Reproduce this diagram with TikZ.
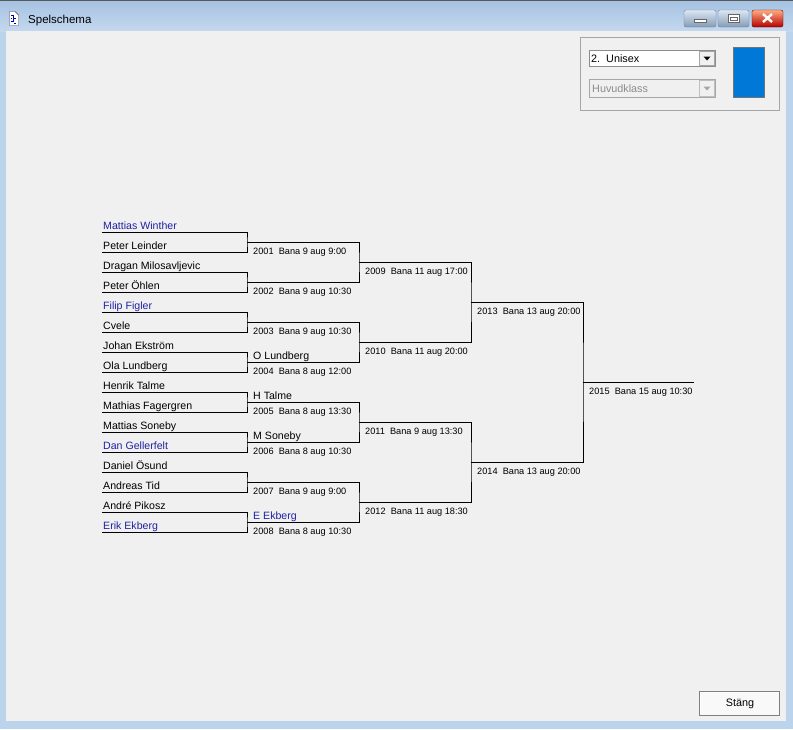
\documentclass[tikz,border=0pt]{standalone}
\usepackage{fontspec}
\setmainfont{Liberation Sans}
\usepackage{tikz}
\usetikzlibrary{positioning,calc}
\definecolor{clientgray}{RGB}{240,240,240}
\definecolor{frameblue}{RGB}{188,211,236}
\definecolor{titletop}{RGB}{166,194,226}
\definecolor{titlebot}{RGB}{196,216,238}
\definecolor{namblue}{RGB}{32,32,165}
\definecolor{boxgray}{RGB}{165,165,165}
\definecolor{selblue}{RGB}{0,120,215}
\definecolor{btnedge}{RGB}{110,130,160}

\tikzset{
  player/.style={anchor=base west,inner sep=0pt,font=\fontsize{10.6}{12}\selectfont},
  matchinfo/.style={anchor=base west,inner sep=0pt,font=\fontsize{9.2}{11}\selectfont},
  bracket/.style={line width=1pt,black},
}

\begin{document}
\begin{tikzpicture}[x=1pt,y=-1pt]
  \useasboundingbox (0,0) rectangle (793,729);
  % window frame and client area
  \fill[frameblue] (0,0) rectangle (793,729);
  \shade[top color=titletop,bottom color=titlebot] (0,1) rectangle (793,31);
  \draw[black!65] (0,0.5) -- (793,0.5);
  \fill[clientgray] (6,31) rectangle (786,721);
  % title icon and caption
  \draw[fill=white,draw=black!75] (9.5,11.5) -- (15,11.5) -- (18.5,15) -- (18.5,25.5) -- (9.5,25.5) -- cycle;
  \draw[blue!70!black,line width=1pt] (11,15) -- (13,15) -- (13,21) -- (11,21) (13,18) -- (16,18) (11,18) -- (12,18) (14,23) -- (16,23);
  \node[anchor=base west,inner sep=0pt,font=\fontsize{11.5}{13}\selectfont] (title) at (28,23) {Spelschema};
  % window buttons
  \shade[top color=white!60!titletop,bottom color=titletop!80!black,draw=btnedge,rounded corners=2pt] (684,10) rectangle (716,27);
  \draw[fill=white,draw=black!60] (694,19) rectangle (706,22);
  \shade[top color=white!60!titletop,bottom color=titletop!80!black,draw=btnedge,rounded corners=2pt] (718,10) rectangle (749,27);
  \draw[fill=white,draw=black!60] (728.5,14.5) rectangle (739.5,22.5);
  \draw[draw=black!60] (730.5,17.5) rectangle (737.5,20.5);
  \shade[top color=red!30!orange!50,bottom color=red!70!black,draw=red!40!black,rounded corners=2pt] (752,10) rectangle (783,27);
  \draw[white,line width=2.4pt] (763,14) -- (772,22) (772,14) -- (763,22);

  % class selector
  \draw[boxgray] (580.5,37.5) rectangle (779.5,110.5);
  \draw[fill=white,draw=black!45] (589.5,50.5) rectangle (715.5,66.5);
  \draw[fill=clientgray,draw=black!35] (699.5,51.5) rectangle (714.5,65.5);
  \fill (703.5,56.5) -- (710.5,56.5) -- (707,60.5) -- cycle;
  \node[anchor=base west,inner sep=0pt,font=\fontsize{10.8}{12}\selectfont] (klass) at (591,62.5) {2.\ \ Unisex};
  \draw[fill=clientgray,draw=black!35] (589.5,79.5) rectangle (715.5,97.5);
  \draw[fill=clientgray,draw=black!25] (699.5,80.5) rectangle (714.5,96.5);
  \fill[black!35] (703.5,86.5) -- (710.5,86.5) -- (707,90.5) -- cycle;
  \node[anchor=base west,inner sep=0pt,text=black!45,font=\fontsize{10.8}{12}\selectfont] (typ) at (592,92.5) {Huvudklass};
  \draw[fill=selblue,draw=black!55] (733.5,47.5) rectangle (764.5,97.5);

  % bracket slots and match points
  \foreach \i in {0,...,15}
    \coordinate (s\i) at (102,232+20*\i);
  \foreach \k in {0,...,7} {
    \pgfmathtruncatemacro\mnum{2001+\k}
    \coordinate (m\mnum) at (247,242+40*\k);
  }
  \foreach \k in {0,...,3} {
    \pgfmathtruncatemacro\mnum{2009+\k}
    \coordinate (m\mnum) at (359,262+80*\k);
  }
  \coordinate (m2013) at (471,302);
  \coordinate (m2014) at (471,462);
  \coordinate (m2015) at (583,382);
  \coordinate (fin) at (694,382);

  % first round
  \foreach \k in {0,...,7} {
    \pgfmathtruncatemacro\mnum{2001+\k}
    \pgfmathtruncatemacro\sa{2*\k}
    \pgfmathtruncatemacro\sb{2*\k+1}
    \draw[bracket] (s\sa) -| (m\mnum) |- (s\sb);
  }
  % later rounds
  \draw[bracket] (m2001) -| (m2009) |- (m2002);
  \draw[bracket] (m2003) -| (m2010) |- (m2004);
  \draw[bracket] (m2005) -| (m2011) |- (m2006);
  \draw[bracket] (m2007) -| (m2012) |- (m2008);
  \draw[bracket] (m2009) -| (m2013) |- (m2010);
  \draw[bracket] (m2011) -| (m2014) |- (m2012);
  \draw[bracket] (m2013) -| (m2015) |- (m2014);
  \draw[bracket] (m2015) -- (fin);

  % players
  \foreach \i/\nm/\col in {0/Mattias Winther/namblue, 1/Peter Leinder/black,
      2/Dragan Milosavljevic/black, 3/Peter Öhlen/black, 4/Filip Figler/namblue,
      5/Cvele/black, 6/Johan Ekström/black, 7/Ola Lundberg/black,
      8/Henrik Talme/black, 9/Mathias Fagergren/black, 10/Mattias Soneby/black,
      11/Dan Gellerfelt/namblue, 12/Daniel Ösund/black, 13/Andreas Tid/black,
      14/André Pikosz/black, 15/Erik Ekberg/namblue}
    \node[player,text=\col] (p\i) at ([shift={(1,-2.5)}]s\i) {\nm};

  % winners so far
  \node[player] (w2004) at ([shift={(6,-2.5)}]m2004) {O Lundberg};
  \node[player] (w2005) at ([shift={(6,-2.5)}]m2005) {H Talme};
  \node[player] (w2006) at ([shift={(6,-2.5)}]m2006) {M Soneby};
  \node[player,text=namblue] (w2008) at ([shift={(6,-2.5)}]m2008) {E Ekberg};

  % match info
  \foreach \m/\t in {2001/Bana 9 aug 9:00, 2002/Bana 9 aug 10:30, 2003/Bana 9 aug 10:30,
      2004/Bana 8 aug 12:00, 2005/Bana 8 aug 13:30, 2006/Bana 8 aug 10:30,
      2007/Bana 9 aug 9:00, 2008/Bana 8 aug 10:30, 2009/Bana 11 aug 17:00,
      2010/Bana 11 aug 20:00, 2011/Bana 9 aug 13:30, 2012/Bana 11 aug 18:30,
      2013/Bana 13 aug 20:00, 2014/Bana 13 aug 20:00, 2015/Bana 15 aug 10:30}
    \node[matchinfo] (t\m) at ([shift={(6,12)}]m\m) {\m\ \ \t};

  % close button
  \draw[fill=clientgray!40!white,draw=black!50] (699.5,691.5) rectangle (779.5,715.5);
  \draw[white] (700.5,713.5) -- (700.5,692.5) -- (778.5,692.5);
  \node[inner sep=0pt,font=\fontsize{10.8}{12}\selectfont] (stang) at (740,703.5) {Stäng};
\end{tikzpicture}
\end{document}
